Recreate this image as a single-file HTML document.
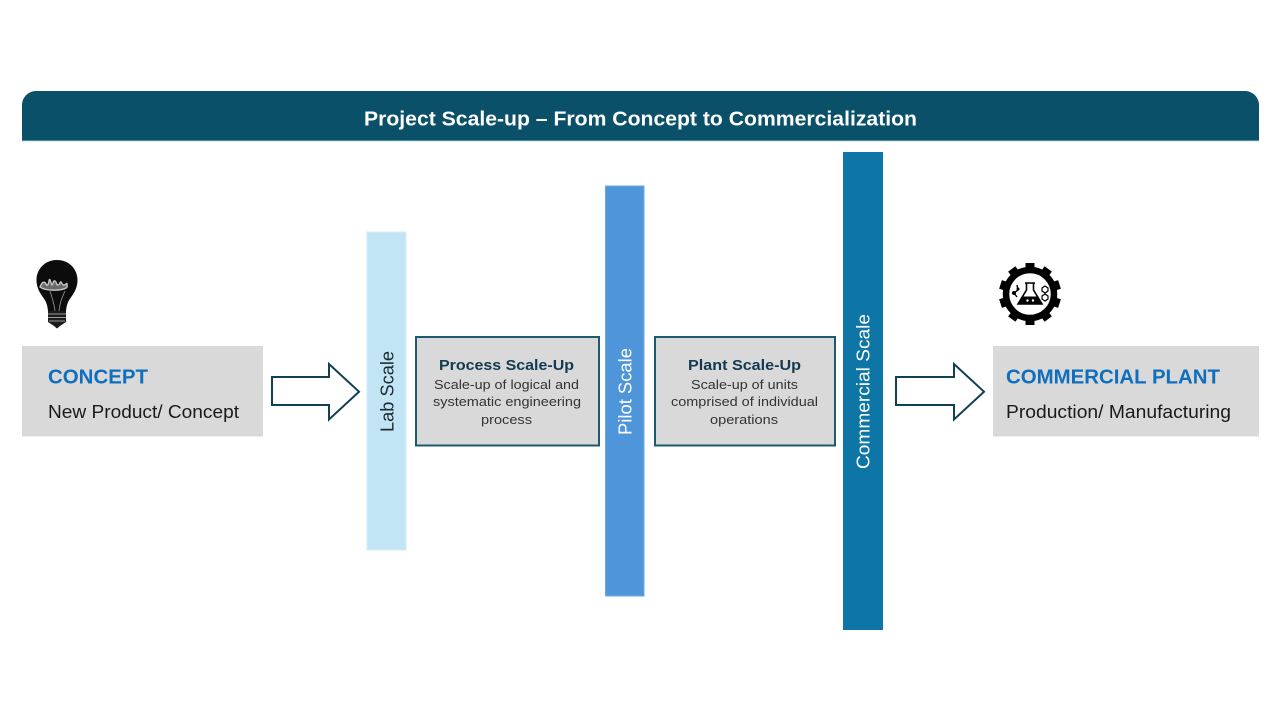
<!DOCTYPE html>
<html><head><meta charset="utf-8"><title>Project Scale-up</title>
<style>
html,body{margin:0;padding:0;background:#fff;width:1280px;height:720px;overflow:hidden}
svg{display:block}
text{font-family:"Liberation Sans",sans-serif}
</style></head>
<body>
<svg width="1280" height="720" viewBox="0 0 1280 720" xmlns="http://www.w3.org/2000/svg">
<rect width="1280" height="720" fill="#fff"/>

<!-- Header -->
<path d="M22 141V105a14 14 0 0 1 14-14H1245a14 14 0 0 1 14 14V141Z" fill="#0a5069"/>
<rect x="22" y="140.200" width="1237" height="1" fill="#5f9db2"/>
<text x="364" y="125.500" font-size="20" font-weight="700" fill="#fff" textLength="553" lengthAdjust="spacingAndGlyphs">Project Scale-up – From Concept to Commercialization</text>

<!-- Concept -->
<rect x="22" y="346" width="241" height="90.500" fill="#d9d9d9"/>
<text x="48" y="383.500" font-size="20" font-weight="700" fill="#0f6fbe" textLength="100" lengthAdjust="spacingAndGlyphs">CONCEPT</text>
<text x="48" y="418" font-size="18" fill="#1a1a1a" textLength="191" lengthAdjust="spacingAndGlyphs">New Product/ Concept</text>

<!-- Arrow 1 -->
<path d="M272 377H329V364L359 391.700L329 419.500V405H272Z" fill="#fff" stroke="#123f52" stroke-width="2"/>

<!-- Bars -->
<rect x="367" y="232" width="39" height="318" fill="#c1e5f5" stroke="#d4edf8" stroke-width="1"/>
<rect x="605.500" y="186" width="38.500" height="410" fill="#4f95da" stroke="#6fa9e0" stroke-width="1"/>
<rect x="843" y="152" width="40" height="478" fill="#0e76a6"/>

<text transform="translate(393.500 432) rotate(-90)" font-size="18" fill="#1f2a30" textLength="81" lengthAdjust="spacingAndGlyphs">Lab Scale</text>
<text transform="translate(631.500 435) rotate(-90)" font-size="18" fill="#fff" textLength="87" lengthAdjust="spacingAndGlyphs">Pilot Scale</text>
<text transform="translate(869.500 469) rotate(-90)" font-size="18" fill="#fff" textLength="155" lengthAdjust="spacingAndGlyphs">Commercial Scale</text>

<!-- Process box -->
<rect x="416" y="337" width="183" height="108.500" fill="#d9d9d9" stroke="#1c5a72" stroke-width="2"/>
<text x="439" y="370" font-size="15" font-weight="700" fill="#123a50" textLength="135" lengthAdjust="spacingAndGlyphs">Process Scale-Up</text>
<text x="434" y="389" font-size="13" fill="#333" textLength="145" lengthAdjust="spacingAndGlyphs">Scale-up of logical and</text>
<text x="433" y="406" font-size="13" fill="#333" textLength="148" lengthAdjust="spacingAndGlyphs">systematic engineering</text>
<text x="481" y="424" font-size="13" fill="#333" textLength="51" lengthAdjust="spacingAndGlyphs">process</text>

<!-- Plant box -->
<rect x="655" y="337" width="180" height="108.500" fill="#d9d9d9" stroke="#1c5a72" stroke-width="2"/>
<text x="688" y="370" font-size="15" font-weight="700" fill="#123a50" textLength="113" lengthAdjust="spacingAndGlyphs">Plant Scale-Up</text>
<text x="691" y="389" font-size="13" fill="#333" textLength="107" lengthAdjust="spacingAndGlyphs">Scale-up of units</text>
<text x="671" y="406" font-size="13" fill="#333" textLength="147" lengthAdjust="spacingAndGlyphs">comprised of individual</text>
<text x="710" y="424" font-size="13" fill="#333" textLength="68" lengthAdjust="spacingAndGlyphs">operations</text>

<!-- Arrow 2 -->
<path d="M896 377H954V364L984 391.700L954 419.500V405H896Z" fill="#fff" stroke="#123f52" stroke-width="2"/>

<!-- Commercial plant -->
<rect x="993" y="346" width="266" height="90.500" fill="#d9d9d9"/>
<text x="1006" y="383.500" font-size="20" font-weight="700" fill="#0f6fbe" textLength="214" lengthAdjust="spacingAndGlyphs">COMMERCIAL PLANT</text>
<text x="1006" y="418" font-size="18" fill="#1a1a1a" textLength="225" lengthAdjust="spacingAndGlyphs">Production/ Manufacturing</text>

<!-- Light bulb icon -->
<g>
<path d="M57 260C45 260 36.500 269 36.500 280C36.500 288 40 293 43.500 298C46.500 302 47.500 306 48 311H66C66.500 306 67.500 302 70.500 298C74 293 77.500 288 77.500 280C77.500 269 69 260 57 260Z" fill="#0c0c0c"/>
<path d="M48 311H66V322L60 326 57 328.500 54 326 48 322Z" fill="#1b1b1b"/>
<path d="M48 314H66M48 317.500H66M49 321H65" stroke="#9a9a9a" stroke-width="1"/>
<path d="M41 285c2-4 4-3 5-1s2 2 3-3 2 4 3 4 1-5 3-4 1 4 3 4 2-4 3-3 1 3 3 3 3-3 3-1 1 3-1 4c-5 3-21 3-26-1z" fill="#6a6a6a" stroke="#c4c4c4" stroke-width="1.400"/>
<path d="M50 291C52 298 54 302 55 311M65 291C62 298 60 302 59 311" fill="none" stroke="#8a8a8a" stroke-width="0.900"/>
</g>

<!-- Gear icon -->
<g transform="translate(1030 294)">
<circle r="24" fill="none" stroke="#000" stroke-width="6.500"/>
<g fill="#000">
<rect x="-4.500" y="-31" width="9" height="8"/>
<rect x="-4.500" y="-31" width="9" height="8" transform="rotate(36)"/>
<rect x="-4.500" y="-31" width="9" height="8" transform="rotate(72)"/>
<rect x="-4.500" y="-31" width="9" height="8" transform="rotate(108)"/>
<rect x="-4.500" y="-31" width="9" height="8" transform="rotate(144)"/>
<rect x="-4.500" y="-31" width="9" height="8" transform="rotate(180)"/>
<rect x="-4.500" y="-31" width="9" height="8" transform="rotate(216)"/>
<rect x="-4.500" y="-31" width="9" height="8" transform="rotate(252)"/>
<rect x="-4.500" y="-31" width="9" height="8" transform="rotate(288)"/>
<rect x="-4.500" y="-31" width="9" height="8" transform="rotate(324)"/>
</g>
<!-- flask -->
<path d="M-5-11H5M-3.500-11V-4L-12 10H12L3.500-4V-11" fill="none" stroke="#000" stroke-width="1.600"/>
<path d="M-7.500 2.500H7.500L12 10.500H-12Z" fill="#000"/>
<circle cx="-2.500" cy="6.500" r="1.200" fill="#fff"/><circle cx="3" cy="6.500" r="1.200" fill="#fff"/>
<!-- molecule left -->
<path d="M-13-9L-12-4-16-1-13 3" fill="none" stroke="#000" stroke-width="1.400"/>
<circle cx="-16" cy="-1" r="2" fill="#000"/><circle cx="-12" cy="-5" r="1.500" fill="#000"/>
<!-- hexagons right -->
<path d="M12-6l3-2 3 2v3l-3 2-3-2zM12 2l3-2 3 2v3l-3 2-3-2z" fill="none" stroke="#000" stroke-width="1.200"/>
</g>
</svg>
</body></html>
